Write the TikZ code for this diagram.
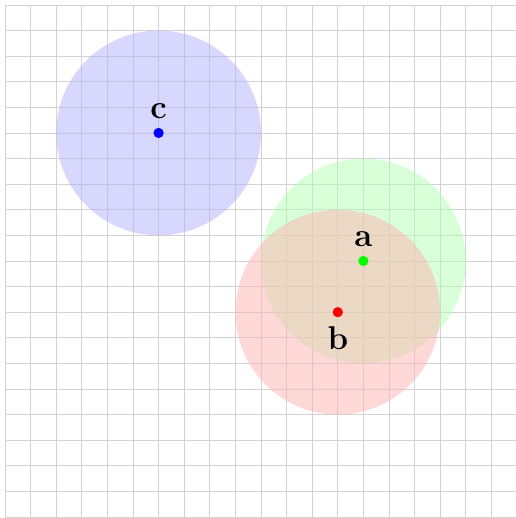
\documentclass[tikz,border=0pt]{standalone}
\usepackage{tikz}
\usetikzlibrary{positioning}

\begin{document}
\begin{tikzpicture}[x=0.5cm,y=0.5cm]
  \tikzstyle{pt}=[circle,inner sep=0pt,minimum size=2mm]
  \tikzstyle{disc}=[fill opacity=0.5]
  \tikzstyle{lbl}=[font=\fontsize{18.3}{22}\selectfont\bfseries,label distance=1.2pt]

  \useasboundingbox (-0.195,-0.04) rectangle (19.96,20.195);
  \clip (-0.195,-0.04) rectangle (19.96,20.195);

  % grid
  \draw[gray!35,line width=0.4pt,step=0.5cm] (0,-0.5) grid (20.5,20);

  % points
  \coordinate (ca) at (14,10);
  \coordinate (cb) at (13,8);
  \coordinate (cc) at (6,15);

  % discs
  \fill[disc,green!30] (ca) circle (4);
  \fill[disc,red!30] (cb) circle (4);
  \fill[disc,blue!30] (cc) circle (4);

  \node[pt,fill=green,label={[lbl]above:a}] (a) at (ca) {};
  \node[pt,fill=red,label={[lbl]below:b}] (b) at (cb) {};
  \node[pt,fill=blue,label={[lbl]above:c}] (c) at (cc) {};
\end{tikzpicture}
\end{document}
